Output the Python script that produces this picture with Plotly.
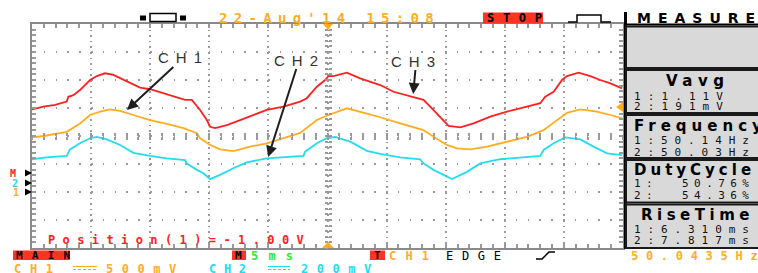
import plotly.graph_objects as go

# ---------------- data (time in ms, amplitude in screen divisions) ----------------
t_ch1 = [-25.0, -24.04, -22.06, -20.94, -20.09, -19.24, -18.40, -17.55, -16.43, -15.01,
         -13.60, -12.19, -11.06, -10.78, -9.93, -9.09, -7.96, -6.55, -5.13, -3.73,
         -2.31, -0.90, 0.08, 1.64, 3.33, 4.46, 6.15, 8.12, 8.97, 10.10,
         10.95, 12.07, 13.49, 15.18, 16.87, 18.28, 19.41, 20.26, 21.38, 22.80,
         23.93, 24.92]
v_ch1 = [-0.05, 0.00, 0.15, 0.45, 0.75, 0.87, 0.95, 0.90, 0.75, 0.57,
         0.43, 0.28, 0.10, -0.08, -0.32, -0.48, -0.54, -0.38, -0.26, -0.08,
         0.11, 0.57, 0.75, 0.99, 0.81, 0.67, 0.45, 0.21, -0.03, -0.32,
         -0.44, -0.48, -0.38, -0.20, -0.03, 0.21, 0.57, 0.83, 0.95, 0.87,
         0.75, 0.63]

t_ch2 = [-25.0, -23.76, -22.06, -21.78, -20.94, -20.09, -19.52, -18.68, -17.55, -16.43,
         -15.01, -13.60, -12.05, -11.91, -11.06, -10.50, -9.93, -9.09, -7.96, -6.83,
         -5.13, -3.73, -2.04, -1.89, -0.90, -0.06, 0.65, 1.92, 3.33, 4.46,
         6.15, 7.84, 8.12, 8.97, 10.10, 10.53, 11.80, 12.92, 14.61, 16.31,
         18.00, 18.28, 19.13, 20.12, 21.38, 22.51, 23.65, 24.92]
v_ch2 = [-0.83, -0.76, -0.71, -0.48, -0.26, -0.08, -0.03, -0.12, -0.32, -0.60,
         -0.71, -0.80, -0.86, -0.98, -1.21, -1.33, -1.54, -1.39, -1.15, -0.94,
         -0.80, -0.76, -0.71, -0.56, -0.26, -0.08, -0.03, -0.20, -0.53, -0.64,
         -0.76, -0.83, -0.98, -1.21, -1.45, -1.54, -1.28, -0.98, -0.83, -0.76,
         -0.71, -0.50, -0.26, -0.05, -0.12, -0.38, -0.62, -0.68]

t_math = [-25.0, -24.04, -23.05, -22.06, -21.93, -21.50, -20.94, -20.09, -19.52, -18.82,
          -18.12, -16.98, -15.86, -15.01, -13.60, -12.75, -12.05, -11.48, -10.78, -10.21,
          -9.93, -9.51, -8.52, -7.39, -6.27, -5.13, -3.73, -2.31, -1.75, -0.90,
          -0.20, 0.08, 0.50, 1.64, 2.76, 4.46, 5.58, 6.72, 7.28, 8.12,
          8.69, 9.54, 10.24, 11.23, 12.35, 13.77, 15.18, 16.87, 18.00, 18.42,
          19.13, 19.84, 20.26, 21.24, 22.23, 23.08, 23.93, 24.92]
v_math = [0.95, 1.05, 1.11, 1.23, 1.40, 1.46, 1.64, 2.00, 2.14, 2.24,
          2.18, 1.94, 1.73, 1.67, 1.50, 1.40, 1.29, 1.29, 0.93, 0.57,
          0.33, 0.28, 0.39, 0.57, 0.75, 0.93, 1.05, 1.23, 1.35, 1.76,
          2.00, 2.14, 2.14, 2.26, 2.06, 1.82, 1.58, 1.46, 1.40, 1.29,
          1.05, 0.69, 0.36, 0.31, 0.45, 0.69, 0.87, 1.05, 1.17, 1.40,
          1.58, 2.00, 2.14, 2.26, 2.14, 2.00, 1.88, 1.70]

# arrow call-outs: label, head time (ms), head level (div)
callout_labels = ["CH1", "CH2", "CH3"]
callout_t = [-16.96, -5.02, 7.25]
callout_v = [0.93, -0.75, 1.50]

measure_titles = ["Vavg", "Frequency", "DutyCycle", "RiseTime"]
measure_lines = [["1:1.11V", "2:191mV"],
                 ["1:50.14Hz", "2:50.03Hz"],
                 ["1:\u00a0\u00a050.76%", "2:\u00a0\u00a054.36%"],
                 ["1:6.310ms", "2:7.817ms"]]

RED, ORANGE, CYAN, GREEN = "#ff2020", "#ffad1f", "#22dcf0", "#33e633"
GRID = "#9a9a9a"
MONO, SANS = "DejaVu Sans Mono", "DejaVu Sans"
W, H = 758, 273
PX0, PX1, PY0, PY1 = 32, 623, 24, 248


def fx(p):
    return p / W


def fy(p):
    return 1 - p / H


fig = go.Figure()
fig.add_trace(go.Scatter(x=t_math, y=v_math, mode="lines", line=dict(color=RED, width=1.8)))
fig.add_trace(go.Scatter(x=t_ch1, y=v_ch1, mode="lines", line=dict(color=ORANGE, width=1.8)))
fig.add_trace(go.Scatter(x=t_ch2, y=v_ch2, mode="lines", line=dict(color=CYAN, width=1.8)))
# empty traces that carry the centre graticule axes
fig.add_trace(go.Scatter(x=[None], y=[None], xaxis="x2", yaxis="y"))
fig.add_trace(go.Scatter(x=[None], y=[None], xaxis="x3", yaxis="y"))
fig.add_trace(go.Scatter(x=[None], y=[None], xaxis="x", yaxis="y2"))
fig.add_trace(go.Scatter(x=[None], y=[None], xaxis="x", yaxis="y3"))

dom_x = [fx(PX0), fx(PX1)]
dom_y = [fy(PY1), fy(PY0)]
common = dict(showticklabels=False, zeroline=False, fixedrange=True)
fig.update_layout(
    width=W, height=H, margin=dict(l=0, r=0, t=0, b=0, pad=0),
    paper_bgcolor="white", plot_bgcolor="white", showlegend=False,
    xaxis=dict(domain=dom_x, range=[-25, 25], dtick=5, tick0=0, showgrid=True,
               gridcolor=GRID, gridwidth=1.5, griddash="1.5px,4.1px",
               ticks="inside", ticklen=4, tickcolor=GRID, tickwidth=1.5,
               minor=dict(dtick=1, ticks="inside", ticklen=3, tickcolor=GRID, showgrid=False),
               showline=True, linecolor="#8a8a8a", linewidth=2, mirror="allticks", **common),
    yaxis=dict(domain=dom_y, range=[-4, 4], dtick=1, tick0=0, showgrid=True,
               gridcolor=GRID, gridwidth=1.5, griddash="1.5px,10.3px",
               ticks="inside", ticklen=4, tickcolor=GRID, tickwidth=1.5,
               minor=dict(dtick=0.2, ticks="inside", ticklen=3, tickcolor=GRID, showgrid=False),
               showline=True, linecolor="#8a8a8a", linewidth=2, mirror="allticks", **common),
    xaxis2=dict(overlaying="x", anchor="free", position=fy(136), range=[-25, 25], dtick=1, tick0=0,
                ticks="outside", ticklen=3, tickwidth=1.5, tickcolor=GRID, showgrid=False,
                showline=False, **common),
    xaxis3=dict(overlaying="x", anchor="free", position=fy(136), range=[-25, 25], dtick=1, tick0=0,
                ticks="inside", ticklen=3, tickwidth=1.5, tickcolor=GRID, showgrid=False,
                showline=False, **common),
    yaxis2=dict(overlaying="y", anchor="free", position=fx(328), range=[-4, 4], dtick=0.2, tick0=0,
                ticks="outside", ticklen=3, tickwidth=1.5, tickcolor=GRID, showgrid=False,
                showline=False, **common),
    yaxis3=dict(overlaying="y", anchor="free", position=fx(328), range=[-4, 4], dtick=0.2, tick0=0,
                ticks="inside", ticklen=3, tickwidth=1.5, tickcolor=GRID, showgrid=False,
                showline=False, **common),
)

annotations = []
shapes = []


def text(s, x0, yc, size, color, x1=None, ls=None, bold=True, family=MONO):
    n = len(s)
    if ls is None:
        ls = 0 if (x1 is None or n < 2) else max(0.0, (x1 - x0 - n * 0.602 * size) / (n - 1))
    body = f'<span style="letter-spacing:{ls:.1f}px">{s}</span>'
    if bold:
        body = "<b>" + body + "</b>"
    annotations.append(dict(text=body, xref="paper", yref="paper", x=fx(x0), y=fy(yc),
                            xanchor="left", yanchor="middle", showarrow=False, borderpad=0,
                            font=dict(family=family, size=size, color=color)))


def path(points, fill=None, color="black", width=0, closed=True, dash=None):
    d = "M " + " L ".join(f"{fx(x):.5f},{fy(y):.5f}" for x, y in points) + (" Z" if closed else "")
    line = dict(color=color, width=width)
    if dash:
        line["dash"] = dash
    shapes.append(dict(type="path", xref="paper", yref="paper", path=d,
                       fillcolor=fill if fill else "rgba(0,0,0,0)", line=line, layer="above"))


def rect(x0, y0, x1, y1, fill, color="black", width=0):
    shapes.append(dict(type="rect", xref="paper", yref="paper", x0=fx(x0), x1=fx(x1),
                       y0=fy(y1), y1=fy(y0), fillcolor=fill, line=dict(color=color, width=width),
                       layer="above"))


# ---------- top bar ----------
rect(140, 15.5, 146, 20.5, "black")
rect(150, 13.5, 176, 21.5, "white", "black", 1.5)
rect(180, 15.5, 186, 20.5, "black")
text("22-Aug'14\u00a015:08", 218, 18, 14, ORANGE, x1=432)
rect(483, 12.5, 543, 23.5, "#ff3322")
text("STOP", 486, 18.5, 12, "black", x1=541)
path([(568, 22), (577, 22), (577, 15), (601, 15), (601, 22), (611, 22)], color="black", width=1.5, closed=False)

# ---------- measure panel ----------
shapes.append(dict(type="line", xref="paper", yref="paper", x0=fx(625.5), x1=fx(625.5),
                   y0=fy(249), y1=fy(12), line=dict(color="black", width=3), layer="above"))
shapes.append(dict(type="line", xref="paper", yref="paper", x0=fx(625), x1=fx(760),
                   y0=fy(24.5), y1=fy(24.5), line=dict(color="black", width=2), layer="above"))
text("MEASURE", 636, 17.5, 14, "black", ls=7, family=SANS)
boxes = [(26.5, 68), (70, 113), (115, 158), (160, 202.5), (204.5, 248)]
for y0, y1 in boxes:
    rect(626, y0, 770, y1, "#d9d9d9", "#1a1a1a", 2)
title_x = [665, 633, 633, 640]
title_y = [81, 126, 170, 215]
title_ls = [5.5, 5.0, 4.0, 4.5]
line_x1 = [722, 748, 748, 748]
line_y = [(96, 107), (140, 152), (183, 195), (229, 240)]
for i, title in enumerate(measure_titles):
    text(title, title_x[i], title_y[i], 15, "black", ls=title_ls[i], family=SANS)
    for j, s in enumerate(measure_lines[i]):
        text(s, 633, line_y[i][j], 11, "#111111", x1=line_x1[i], bold=False)

# ---------- graticule markers ----------
path([(323, 24), (333, 24), (328, 30)], fill=ORANGE)
path([(322, 248), (334, 248), (328, 242)], fill=ORANGE)
path([(623, 102), (623, 112), (616, 107)], fill=ORANGE)
for yc, lab, col, lx in [(173, "M", RED, 9), (183, "2", CYAN, 11), (192, "1", ORANGE, 12)]:
    path([(25, yc - 3.5), (25, yc + 3.5), (32, yc)], fill="black")
    text(lab, lx, yc, 10, col)

text("Position(1)=-1.00V", 47, 240, 12, RED, x1=302)

# ---------- call-outs ----------
label_px = [(183, 58), (299, 60), (416, 61)]
head_px = [(127, 110), (268, 157), (413, 94)]
for i, lab in enumerate(callout_labels):
    annotations.append(dict(
        text=f'<span style="letter-spacing:7px">{lab}</span>', x=callout_t[i], y=callout_v[i],
        xref="x", yref="y", showarrow=True, arrowhead=2, arrowsize=1.1, arrowwidth=2,
        arrowcolor="#1e1e1e", ax=label_px[i][0] - head_px[i][0], ay=label_px[i][1] - head_px[i][1],
        font=dict(family="Liberation Sans", size=15, color="#333333"), borderpad=0))

# ---------- bottom bars ----------
rect(13, 250.5, 70, 260, "#ff3322")
text("MAIN", 15, 255.5, 11, "black", x1=69)
rect(232, 250.5, 246, 260, "#ff3322")
text("M", 234, 255.5, 11, "black")
text("5ms", 250, 255.5, 12, GREEN, x1=292)
rect(370, 250.5, 385, 260, "#ff3322")
text("T", 373, 255.5, 11, "black")
text("CH1", 388, 255.5, 12, ORANGE, x1=428)
text("EDGE", 445, 255.5, 12, "black", x1=500, bold=False)
path([(536, 259), (542, 259), (549, 252), (555, 252)], color="black", width=1.5, closed=False)
text("50.0435Hz", 630, 256, 12, ORANGE, x1=757)

text("CH1", 13, 269, 12, ORANGE, x1=52)
path([(73, 266.5), (97, 266.5)], color=ORANGE, width=1.2, closed=False)
path([(73, 269.5), (97, 269.5)], color=ORANGE, width=1.2, closed=False, dash="3px,2px")
text("500mV", 105, 269, 12, ORANGE, x1=175)
text("CH2", 208, 269, 12, CYAN, x1=245)
path([(268, 266.5), (290, 266.5)], color=CYAN, width=1.2, closed=False)
path([(268, 269.5), (290, 269.5)], color=CYAN, width=1.2, closed=False, dash="3px,2px")
text("200mV", 300, 269, 12, CYAN, x1=370)

fig.update_layout(annotations=annotations, shapes=shapes)
fig.write_html("out.html", config={"displayModeBar": False},
               post_script="document.body.style.margin='0';document.body.style.overflow='hidden';")
